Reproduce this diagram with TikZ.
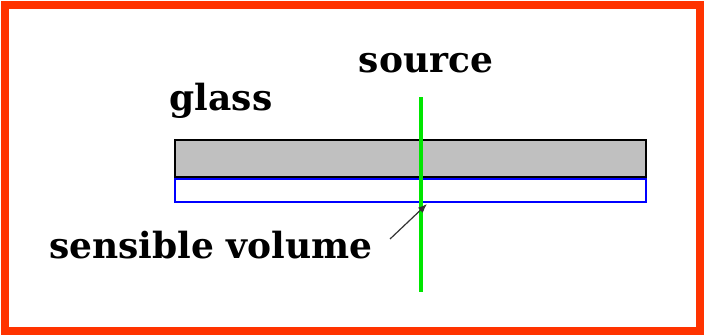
\documentclass[tikz,border=0pt]{standalone}
\usepackage{fontspec}
\setmainfont{DejaVu Serif}
\usetikzlibrary{arrows.meta,positioning,calc}
\definecolor{framered}{RGB}{255,51,0}
\definecolor{glassgray}{RGB}{192,192,192}
\definecolor{beamgreen}{RGB}{0,230,0}
\tikzset{
  lbl/.style    = {inner sep=0pt, font=\fontsize{36}{38}\selectfont\bfseries},
  slab/.style   = {shape=rectangle, inner sep=0pt, anchor=north west,
                   minimum width=471pt},
  glassbox/.style = {slab, draw=black, line width=2pt, fill=glassgray, minimum height=37pt},
  volbox/.style   = {slab, draw=blue, line width=2pt, fill=white, minimum height=23pt},
  beam/.style   = {draw=beamgreen, line width=3.5pt},
  pointer/.style = {draw=black!80, line width=1.2pt, -{Latex[length=9pt,width=7pt]}},
}
\begin{document}
\begin{tikzpicture}[x=1pt, y=-1pt]
    \useasboundingbox (0,0) rectangle (704,335);
    \draw[framered, line width=8pt] (5,5) rectangle (700,331);
    % glass plate and sensible volume below it
    \node[volbox]   (vol)   at (174,178) {};
    \node[glassbox] (glass) at (174,139) {};
    % source beam
    \coordinate (beamtop) at (421,97);
    \coordinate (beambot) at (421,292);
    \draw[beam] (beamtop) -- (beambot);
    % labels
    \node[lbl] (srclbl)   at (426,63)  {source};
    \node[lbl] (glasslbl) at (221,101) {glass};
    \node[lbl] (vollbl)   at (211,245) {sensible volume};
    \coordinate (tail) at (390,239);
    \coordinate (tip)  at (427,204);
    \draw[pointer] (tail) -- (tip);
\end{tikzpicture}
\end{document}
